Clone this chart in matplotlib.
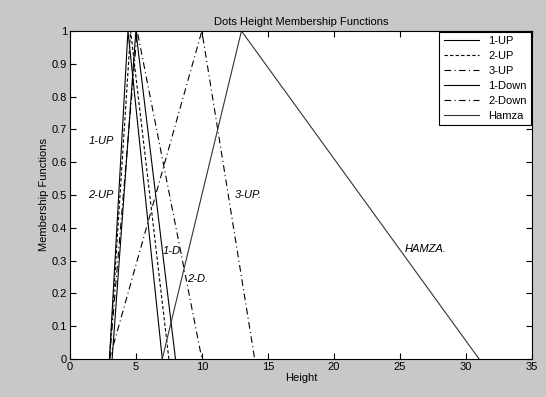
import matplotlib.pyplot as plt

# Triangular membership functions: (foot, peak, foot) along Height
tri_y = [0, 1, 0]
up1_x = [3, 4.4, 7]
up2_x = [3, 4.6, 7.5]
up3_x = [3, 10, 14]
down1_x = [3.2, 5.0, 8]
down2_x = [3, 5.1, 10]
hamza_x = [7, 13, 31]

series_names = ['1-UP', '2-UP', '3-UP', '1-Down', '2-Down', 'Hamza']

# in-plot labels (gtext style)
label_texts = ['1-UP', '2-UP', '3-UP.', '1-D.', '2-D.', 'HAMZA.']
label_x = [1.4, 1.4, 12.5, 7.0, 8.9, 25.4]
label_y = [0.665, 0.5, 0.5, 0.33, 0.245, 0.335]

x_ticks = [0, 5, 10, 15, 20, 25, 30, 35]
y_ticks = [0, 0.1, 0.2, 0.3, 0.4, 0.5, 0.6, 0.7, 0.8, 0.9, 1]

plt.rcParams['font.family'] = ['Liberation Sans', 'DejaVu Sans']

fig = plt.figure(figsize=(5.46, 3.97), dpi=100)
fig.patch.set_facecolor('#c8c8c8')
ax = fig.add_axes([0.128, 0.096, 0.846, 0.826])
ax.set_facecolor('white')

lw = 0.8
dashdot = (0, (6, 3, 1, 3))
ax.plot(up1_x, tri_y, color='black', lw=lw, linestyle='-', label=series_names[0])
ax.plot(up2_x, tri_y, color='black', lw=lw, linestyle=(0, (3, 2)), label=series_names[1])
ax.plot(up3_x, tri_y, color='black', lw=lw, linestyle=dashdot, label=series_names[2])
ax.plot(down1_x, tri_y, color='black', lw=lw, linestyle='-', label=series_names[3])
ax.plot(down2_x, tri_y, color='black', lw=lw, linestyle=dashdot, label=series_names[4])
ax.plot(hamza_x, tri_y, color='#333333', lw=lw, linestyle='-', label=series_names[5])

for t, x, y in zip(label_texts, label_x, label_y):
    ax.text(x, y, t, fontsize=8, style='italic', va='center', ha='left')

ax.set_xlim(0, 35)
ax.set_ylim(0, 1)
ax.set_xticks(x_ticks)
ax.set_yticks(y_ticks)
ax.set_xticklabels([str(v) for v in x_ticks])
ax.set_yticklabels(['0'] + ['%.1f' % v for v in y_ticks[1:-1]] + ['1'])
ax.tick_params(direction='in', top=True, right=True, labelsize=8, length=4, width=0.8, pad=2)
for s in ax.spines.values():
    s.set_linewidth(0.8)

ax.set_title('Dots Height Membership Functions', fontsize=8, pad=4)
ax.set_xlabel('Height', fontsize=8, labelpad=1)
ax.set_ylabel('Membership Functions', fontsize=8, labelpad=2)

leg = ax.legend(loc='upper right', fontsize=8, frameon=True, fancybox=False,
                handlelength=3.2, handletextpad=0.8, borderpad=0.4,
                labelspacing=0.45, borderaxespad=0.05)
leg.get_frame().set_edgecolor('black')
leg.get_frame().set_linewidth(0.8)
leg.get_frame().set_alpha(1)

fig.savefig('out.png', dpi=100, facecolor=fig.get_facecolor())
